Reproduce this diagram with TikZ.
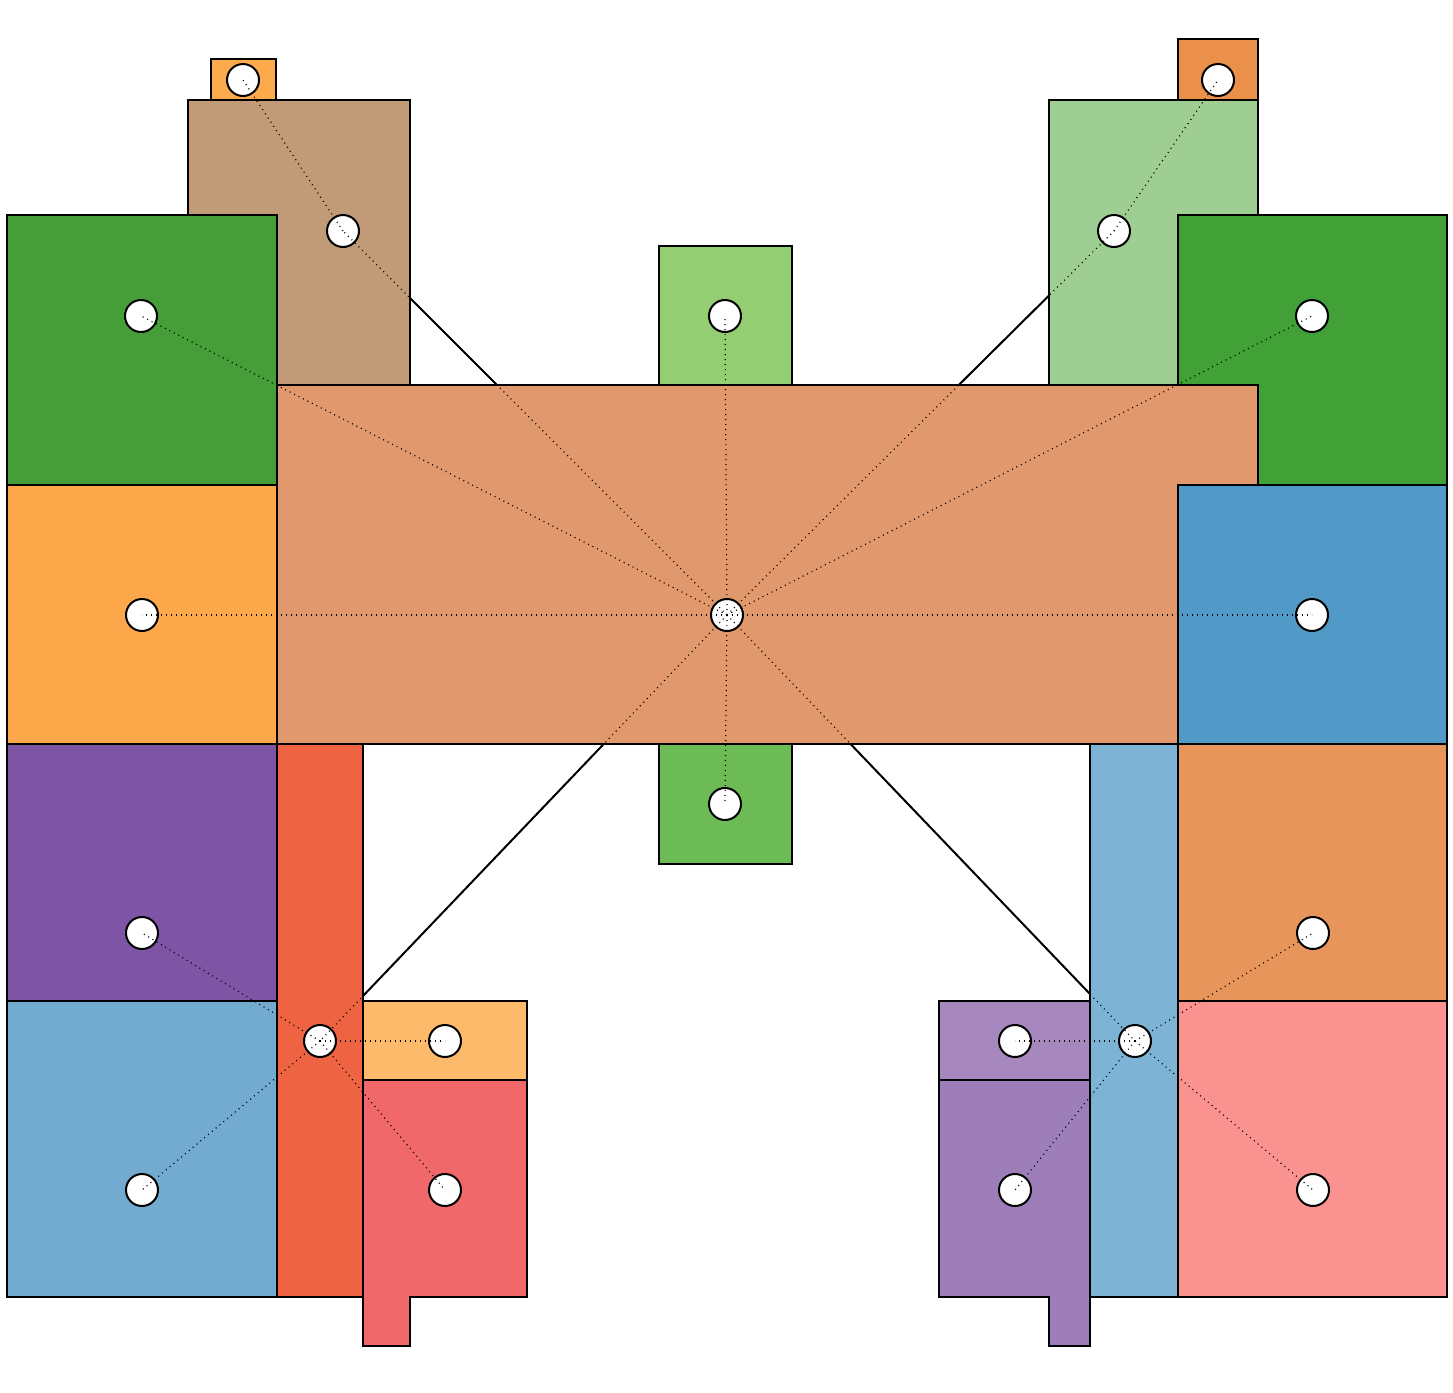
\documentclass[tikz,border=0pt]{standalone}
\begin{document}
\begin{tikzpicture}[x=0.5pt,y=-0.5pt,
  region/.style={draw=black,line width=1pt,line join=miter},
  hole/.style={circle,draw=black,fill=white,line width=1pt,minimum size=16pt,inner sep=0pt},
  link/.style={draw=black,line width=1pt},
  dotlink/.style={draw=black,line width=0.6pt,dash pattern=on 0.5pt off 2pt}]
\useasboundingbox (0,0) rectangle (1453,1393);
\definecolor{cA}{HTML}{FDAA4D}
\definecolor{cB}{HTML}{C19B78}
\definecolor{cC}{HTML}{459E37}
\definecolor{cD}{HTML}{FCA84A}
\definecolor{cE}{HTML}{7E55A4}
\definecolor{cF}{HTML}{73ABD0}
\definecolor{cG}{HTML}{EE6342}
\definecolor{cH}{HTML}{FDBA6A}
\definecolor{cI}{HTML}{F0686A}
\definecolor{cJ}{HTML}{94CE72}
\definecolor{cK}{HTML}{6DBB55}
\definecolor{cL}{HTML}{9ECE92}
\definecolor{cM}{HTML}{EA904A}
\definecolor{cN}{HTML}{41A036}
\definecolor{cO}{HTML}{5199C6}
\definecolor{cP}{HTML}{E8955C}
\definecolor{cQ}{HTML}{FA9290}
\definecolor{cR}{HTML}{7DB3D4}
\definecolor{cS}{HTML}{A688BF}
\definecolor{cT}{HTML}{9E7EB8}
\definecolor{cU}{HTML}{E2986D}

% positions
\coordinate (pc) at (727,615);
\coordinate (pbr) at (343,231);
\coordinate (pgr) at (1114,231);
\coordinate (phl) at (320,1041);
\coordinate (phr) at (1135,1041);

% solid connectors (under the regions)
\draw[link] (pc) -- (pbr);
\draw[link] (pc) -- (pgr);
\draw[link] (pc) -- (phl);
\draw[link] (pc) -- (phr);

% regions, left
\draw[region,fill=cA] (211,59) rectangle (276,100);
\draw[region,fill=cB] (188,100) rectangle (410,385);
\draw[region,fill=cC] (7,215) rectangle (277,485);
\draw[region,fill=cD] (7,485) rectangle (277,744);
\draw[region,fill=cE] (7,744) rectangle (277,1001);
\draw[region,fill=cF] (7,1001) rectangle (277,1297);
\draw[region,fill=cG] (277,744) rectangle (363,1297);
\draw[region,fill=cH] (363,1001) rectangle (527,1080);
\draw[region,fill=cI] (363,1080) -- (527,1080) -- (527,1297) -- (410,1297) -- (410,1346) -- (363,1346) -- cycle;
% regions, middle
\draw[region,fill=cJ] (659,246) rectangle (792,385);
\draw[region,fill=cK] (659,744) rectangle (792,864);
% regions, right
\draw[region,fill=cM] (1178,39) rectangle (1258,100);
\draw[region,fill=cL] (1049,100) rectangle (1258,385);
\draw[region,fill=cN] (1178,215) rectangle (1447,485);
\draw[region,fill=cO] (1178,485) rectangle (1447,744);
\draw[region,fill=cP] (1178,744) rectangle (1447,1001);
\draw[region,fill=cQ] (1178,1001) rectangle (1447,1297);
\draw[region,fill=cR] (1090,744) rectangle (1178,1297);
\draw[region,fill=cS] (939,1001) rectangle (1090,1080);
\draw[region,fill=cT] (939,1080) -- (1090,1080) -- (1090,1346) -- (1049,1346) -- (1049,1297) -- (939,1297) -- cycle;
% central region
\draw[region,fill=cU] (277,385) -- (1258,385) -- (1258,485) -- (1178,485) -- (1178,744) -- (277,744) -- cycle;

% holes
\node[hole] (c) at (pc) {};
\node[hole] (br) at (pbr) {};
\node[hole] (gr) at (pgr) {};
\node[hole] (hl) at (phl) {};
\node[hole] (hr) at (phr) {};
\node[hole] (sa) at (243,80) {};
\node[hole] (sm) at (1218,80) {};
\node[hole] (gl) at (141,316) {};
\node[hole] (gt) at (725,316) {};
\node[hole] (gn) at (1312,316) {};
\node[hole] (ol) at (142,615) {};
\node[hole] (bl) at (1312,615) {};
\node[hole] (gb) at (725,804) {};
\node[hole] (pl) at (142,933) {};
\node[hole] (bll) at (142,1190) {};
\node[hole] (lo) at (445,1041) {};
\node[hole] (rd) at (445,1190) {};
\node[hole] (lp) at (1015,1041) {};
\node[hole] (pr) at (1015,1190) {};
\node[hole] (or) at (1313,933) {};
\node[hole] (pk) at (1313,1190) {};

% dotted connectors
\foreach \n in {br,gr,hl,hr,gl,gt,gn,ol,bl,gb}
  \draw[dotlink] (c.center) -- (\n.center);
\draw[dotlink] (br.center) -- (sa.center);
\draw[dotlink] (gr.center) -- (sm.center);
\foreach \n in {pl,bll,lo,rd}
  \draw[dotlink] (hl.center) -- (\n.center);
\foreach \n in {lp,pr,or,pk}
  \draw[dotlink] (hr.center) -- (\n.center);
\end{tikzpicture}
\end{document}
